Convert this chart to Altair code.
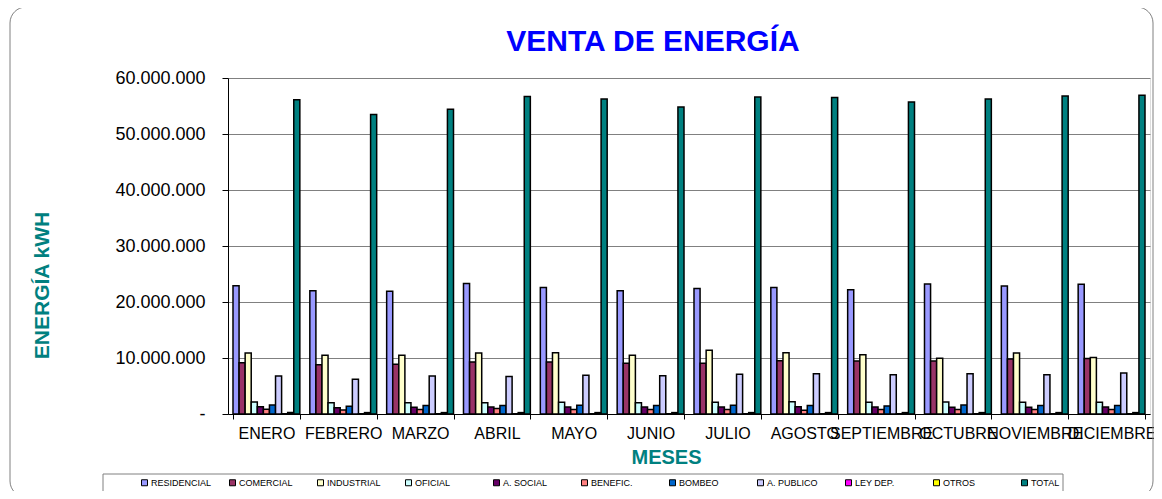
import altair as alt
import pandas as pd

months = ["ENERO", "FEBRERO", "MARZO", "ABRIL", "MAYO", "JUNIO", "JULIO",
          "AGOSTO", "SEPTIEMBRE", "OCTUBRE", "NOVIEMBRE", "DICIEMBRE"]
series = ["RESIDENCIAL", "COMERCIAL", "INDUSTRIAL", "OFICIAL", "A. SOCIAL",
          "BENEFIC.", "BOMBEO", "A. PUBLICO", "LEY DEP.", "OTROS", "TOTAL"]
colors = ["#9999FF", "#993366", "#FFFFCC", "#CCFFFF", "#660066",
          "#FF8080", "#0066CC", "#CCCCFF", "#FF00FF", "#FFFF00", "#008080"]
chart_title = "VENTA DE ENERGÍA"

residencial = [22900000, 22000000, 21900000, 23300000, 22600000, 22000000, 22400000, 22600000, 22200000, 23200000, 22850000, 23150000]
comercial = [9170000, 8800000, 8900000, 9300000, 9300000, 9050000, 9050000, 9500000, 9450000, 9450000, 9800000, 9900000]
industrial = [10900000, 10500000, 10500000, 10900000, 10950000, 10500000, 11400000, 10950000, 10600000, 9950000, 10900000, 10100000]
oficial = [2140000, 2000000, 2000000, 2000000, 2100000, 2000000, 2100000, 2200000, 2100000, 2150000, 2100000, 2100000]
a_social = [1310000, 1100000, 1200000, 1250000, 1250000, 1250000, 1250000, 1300000, 1250000, 1200000, 1200000, 1250000]
benefic = [830000, 700000, 800000, 1000000, 800000, 800000, 800000, 650000, 800000, 800000, 800000, 800000]
bombeo = [1600000, 1400000, 1500000, 1500000, 1550000, 1500000, 1550000, 1500000, 1450000, 1600000, 1500000, 1500000]
a_publico = [6790000, 6200000, 6800000, 6700000, 6900000, 6850000, 7100000, 7200000, 7000000, 7200000, 7000000, 7300000]
ley_dep = [50000, 50000, 50000, 50000, 50000, 50000, 50000, 50000, 50000, 50000, 50000, 50000]
otros = [250000, 250000, 250000, 250000, 250000, 250000, 250000, 250000, 250000, 250000, 250000, 250000]
total = [56100000, 53500000, 54400000, 56700000, 56250000, 54800000, 56600000, 56500000, 55700000, 56250000, 56800000, 56900000]

all_values = [residencial, comercial, industrial, oficial, a_social, benefic,
              bombeo, a_publico, ley_dep, otros, total]

rows = []
for s, vals in zip(series, all_values):
    for m, v in zip(months, vals):
        rows.append({"mes": m, "serie": s, "valor": v})
df = pd.DataFrame(rows)

FONT = "Liberation Sans"
TEAL = "#008080"

bars = alt.Chart(df).mark_bar(stroke="black", strokeWidth=1.5).encode(
    x=alt.X("mes:N", sort=months,
            scale=alt.Scale(paddingInner=0.13, paddingOuter=0.065),
            axis=alt.Axis(title="MESES", titleFont=FONT, titleFontSize=20,
                          titleFontWeight="bold", titleColor=TEAL,
                          titleX=438, titleY=49, titleBaseline="alphabetic",
                          labelFont=FONT, labelFontSize=16, labelColor="black",
                          labelAngle=0, labelPadding=6, labelOverlap=False,
                          tickBand="extent", tickColor="black", tickSize=5,
                          domainColor="black", domainWidth=1, grid=False)),
    xOffset=alt.XOffset("serie:N", sort=series,
                        scale=alt.Scale(paddingInner=0, paddingOuter=0)),
    y=alt.Y("valor:Q",
            scale=alt.Scale(domain=[0, 60000000], nice=False),
            axis=alt.Axis(title="ENERGÍA kWH", titleFont=FONT, titleFontSize=21,
                          titleFontWeight="bold", titleColor=TEAL,
                          titleAngle=-90, titleX=-186, titleY=207,
                          titleAlign="center", titleBaseline="middle",
                          values=[0, 10000000, 20000000, 30000000, 40000000, 50000000, 60000000],
                          labelExpr="datum.value == 0 ? '-' : replace(replace(format(datum.value, ','), ',', '.'), ',', '.')",
                          labelFont=FONT, labelFontSize=18, labelColor="black",
                          labelPadding=17, tickColor="black", tickSize=6,
                          domainColor="black", domainWidth=1,
                          gridColor="#808080", gridWidth=1)),
    color=alt.Color("serie:N", sort=series,
                    scale=alt.Scale(domain=series, range=colors),
                    legend=alt.Legend(title=None, orient="none", legendX=-88, legendY=400,
                                      direction="horizontal", columns=11, gridAlign="all",
                                      columnPadding=15, symbolType="square", symbolSize=36,
                                      symbolStrokeColor="black", symbolStrokeWidth=1,
                                      labelFont=FONT, labelFontSize=9, labelColor="black",
                                      labelOffset=2, padding=0)),
)

frame = alt.Chart(alt.Data(values=[{}])).mark_rect(
    fill=None, stroke="#808080", strokeWidth=1, cornerRadius=16
).encode(x=alt.value(-218), x2=alt.value(925), y=alt.value(-71), y2=alt.value(419))

legend_box = alt.Chart(alt.Data(values=[{}])).mark_rect(
    fill="white", stroke="#808080", strokeWidth=1
).encode(x=alt.value(-125), x2=alt.value(835), y=alt.value(396), y2=alt.value(416))

title_text = alt.Chart(alt.Data(values=[{}])).mark_text(
    font=FONT, fontSize=30, fontWeight="bold", color="#0000FF",
    align="center", baseline="middle"
).encode(x=alt.value(425), y=alt.value(-36), text=alt.value(chart_title))

chart = alt.layer(frame, legend_box, title_text, bars).properties(
    width=922, height=336,
    autosize=alt.AutoSizeParams(type="none"),
    padding={"left": 220, "top": 70, "right": 4, "bottom": 77},
).configure_view(stroke="#808080", strokeWidth=1).configure(background="white")

chart.save("out.html", embed_options={"renderer": "svg", "actions": False})
